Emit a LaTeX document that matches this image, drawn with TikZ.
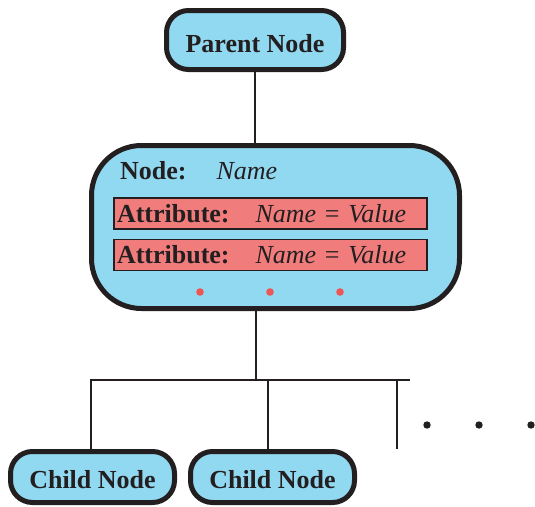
\documentclass[tikz,border=0pt]{standalone}
\usepackage{fontspec}
\setmainfont{Liberation Serif}

\definecolor{nodeblue}{RGB}{145,216,241}
\definecolor{attrred}{RGB}{240,124,124}
\definecolor{dotred}{RGB}{238,85,85}
\definecolor{inkblack}{RGB}{35,31,32}

\begin{document}
\begin{tikzpicture}[x=1pt, y=1pt,
		treenode/.style={draw=inkblack, fill=nodeblue, text=inkblack, line width=5pt, rounded corners=22pt, inner sep=0pt, text height=22pt, text depth=0pt, font=\fontsize{26}{31}\selectfont\bfseries},
		attrbox/.style={draw=inkblack, fill=attrred, text=inkblack, line width=1.8pt, inner xsep=3pt, inner ysep=0pt, text width=307pt, minimum height=31pt, align=left, font=\fontsize{26}{31}\selectfont},
		link/.style={draw=inkblack, line width=2.3pt}]
		\useasboundingbox (0,0) rectangle (535,-506);

		\node[treenode, text height=25pt, minimum width=177pt, minimum height=59pt] (parent) at (255,-40) {Parent Node};
		\node[treenode, rounded corners=50pt, minimum width=368pt, minimum height=163pt] (item) at (275.5,-227) {};
		\node[anchor=base west, inner sep=0pt, text=inkblack, font=\fontsize{26}{31}\selectfont] (itemname) at (120,-179) {\textbf{Node:}\hspace{1.15em}\textit{Name}};
		\node[attrbox] (attrA) at (270.5,-213.5) {\textbf{Attribute:}\hspace{1em}\textit{Name} = \textit{Value}};
		\node[attrbox] (attrB) at (270.5,-255) {\textbf{Attribute:}\hspace{1em}\textit{Name} = \textit{Value}};
		\foreach \x in {200,270,340}
			\fill[dotred] (\x,-292) circle (3.8);

		\node[treenode, minimum width=164pt, minimum height=51pt] (childA) at (92.5,-477) {Child Node};
		\node[treenode, minimum width=164pt, minimum height=51pt] (childB) at (272.5,-477) {Child Node};

		\coordinate (hub) at (256,-380);
		\coordinate (busL) at (91,-380);
		\coordinate (busM) at (268,-380);
		\coordinate (busR) at (410,-380);
		\coordinate (stub) at (397,-380);

		\draw[link] (parent.south) -- (parent.south |- item.north);
		\draw[link] (item.south -| hub) -- (hub);
		\draw[link] (busL |- childA.north) -- (busL) -- (busR);
		\draw[link] (busM) -- (busM |- childB.north);
		\draw[link] (stub) -- ++(0,-69);
		\foreach \x in {427,479,531}
			\fill[inkblack] (\x,-425) circle (3.7);
	\end{tikzpicture}
\end{document}
